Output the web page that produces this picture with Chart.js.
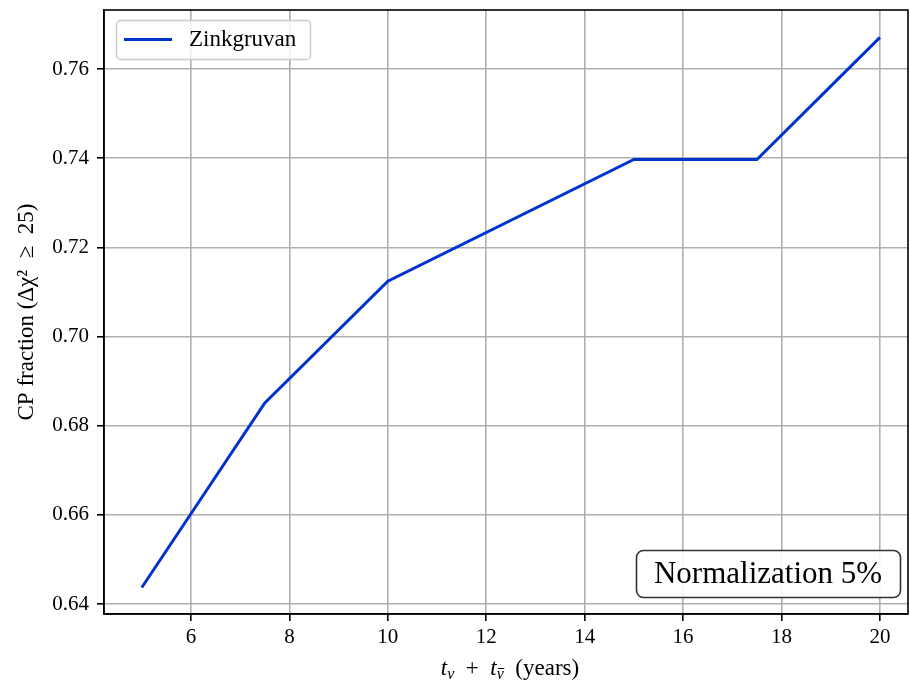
<!DOCTYPE html>
<html>
<head>
<meta charset="utf-8">
<script src="https://cdn.jsdelivr.net/npm/chart.js@4/dist/chart.umd.min.js"></script>
<style>
    body { margin: 0; background: #fff; }
    canvas { display: block; }
</style>
</head>
<body>
<canvas id="cp-chart" width="910" height="688"></canvas>
<script>
// Data
const years = [5, 7.5, 10, 15, 17.5, 20];
const cpFraction = [0.6437, 0.6851, 0.7124, 0.7397, 0.7397, 0.7671];
const xTicks = [6, 8, 10, 12, 14, 16, 18, 20];
const yTicks = [0.64, 0.66, 0.68, 0.70, 0.72, 0.74, 0.76];
const seriesLabel = "Zinkgruvan";
const noteText = "Normalization 5%";
const yTitle = "CP fraction (\u0394\u03c7\u00b2\u2002\u2265\u200225)";

const FONT = "'Liberation Serif', serif";
const LINE_COLOR = "#0033cc";

// legend, note box, top/right spines and the x title with subscripts
const extras = {
    id: "extras",
    afterDraw(chart) {
        const ctx = chart.ctx;
        const a = chart.chartArea;
        ctx.save();

        // frame
        ctx.strokeStyle = "#000";
        ctx.lineWidth = 1.6;
        ctx.strokeRect(a.left, a.top, a.right - a.left, a.bottom - a.top);

        // legend
        ctx.beginPath();
        ctx.roundRect(116.5, 20.5, 194, 39, 4);
        ctx.fillStyle = "rgba(255,255,255,0.8)";
        ctx.fill();
        ctx.strokeStyle = "#cccccc";
        ctx.lineWidth = 1.5;
        ctx.stroke();

        ctx.beginPath();
        ctx.moveTo(124, 39.5);
        ctx.lineTo(172, 39.5);
        ctx.strokeStyle = LINE_COLOR;
        ctx.lineWidth = 3;
        ctx.stroke();

        ctx.fillStyle = "#000";
        ctx.font = "23px " + FONT;
        ctx.textBaseline = "alphabetic";
        ctx.textAlign = "left";
        ctx.fillText(seriesLabel, 189, 46);

        // note box
        ctx.beginPath();
        ctx.roundRect(636.5, 550.5, 264, 47, 7);
        ctx.fillStyle = "rgba(255,255,255,0.9)";
        ctx.fill();
        ctx.strokeStyle = "#333";
        ctx.lineWidth = 1.6;
        ctx.stroke();
        ctx.fillStyle = "#000";
        ctx.font = "31px " + FONT;
        ctx.textAlign = "center";
        ctx.fillText(noteText, 768, 583);

        // x axis title: t_nu + t_nubar (years)
        const parts = [
            { t: "t", f: "italic 23px " + FONT, dy: 0 },
            { t: "\u03bd", f: "italic 16px " + FONT, dy: 4 },
            { t: "\u2002+\u2002", f: "23px " + FONT, dy: 0 },
            { t: "t", f: "italic 23px " + FONT, dy: 0 },
            { t: "\u03bd", f: "italic 16px " + FONT, dy: 4, bar: true },
            { t: "\u2002(years)", f: "23px " + FONT, dy: 0 }
        ];
        let total = 0;
        parts.forEach(p => { ctx.font = p.f; p.w = ctx.measureText(p.t).width; total += p.w; });
        let x = 510 - total / 2;
        const base = 675;
        ctx.textAlign = "left";
        parts.forEach(p => {
            ctx.font = p.f;
            ctx.fillText(p.t, x, base + p.dy);
            if (p.bar) {
                ctx.beginPath();
                ctx.moveTo(x + 1.5, base + p.dy - 10.5);
                ctx.lineTo(x + p.w + 0.5, base + p.dy - 10.5);
                ctx.strokeStyle = "#000";
                ctx.lineWidth = 1;
                ctx.stroke();
            }
            x += p.w;
        });

        ctx.restore();
    }
};

const tickFont = { family: FONT, size: 21 };

new Chart(document.getElementById("cp-chart"), {
    type: "line",
    data: {
        datasets: [{
            label: seriesLabel,
            data: years.map((x, i) => ({ x: x, y: cpFraction[i] })),
            borderColor: LINE_COLOR,
            backgroundColor: LINE_COLOR,
            borderWidth: 3,
            pointRadius: 0,
            tension: 0,
            fill: false
        }]
    },
    options: {
        responsive: false,
        animation: false,
        devicePixelRatio: 1,
        layout: { padding: { top: 10, right: 2, left: 0, bottom: 0 } },
        plugins: {
            legend: { display: false },
            tooltip: { enabled: false }
        },
        scales: {
            x: {
                type: "linear",
                min: 4.232,
                max: 20.57,
                afterBuildTicks: s => { s.ticks = xTicks.map(v => ({ value: v })); },
                afterFit: s => { s.height = 74; s.paddingLeft = 0; s.paddingRight = 0; },
                grid: { color: "#b0b0b0", lineWidth: 1.6, tickLength: 7, tickColor: "#000", tickWidth: 1.6 },
                border: { display: true, color: "#000", width: 1.6 },
                ticks: { color: "#000", font: tickFont, padding: 4, maxRotation: 0 }
            },
            y: {
                min: 0.63776,
                max: 0.77323,
                afterBuildTicks: s => { s.ticks = yTicks.map(v => ({ value: v })); },
                afterFit: s => { s.width = 104; s.paddingTop = 0; s.paddingBottom = 0; },
                grid: { color: "#b0b0b0", lineWidth: 1.6, tickLength: 7, tickColor: "#000", tickWidth: 1.6 },
                border: { display: true, color: "#000", width: 1.6 },
                ticks: { color: "#000", font: tickFont, padding: 8, callback: v => v.toFixed(2) },
                title: {
                    display: true,
                    text: yTitle,
                    color: "#000",
                    font: { family: FONT, size: 23 },
                    padding: { top: 13, bottom: 0 }
                }
            }
        }
    },
    plugins: [extras]
});
</script>
</body>
</html>
